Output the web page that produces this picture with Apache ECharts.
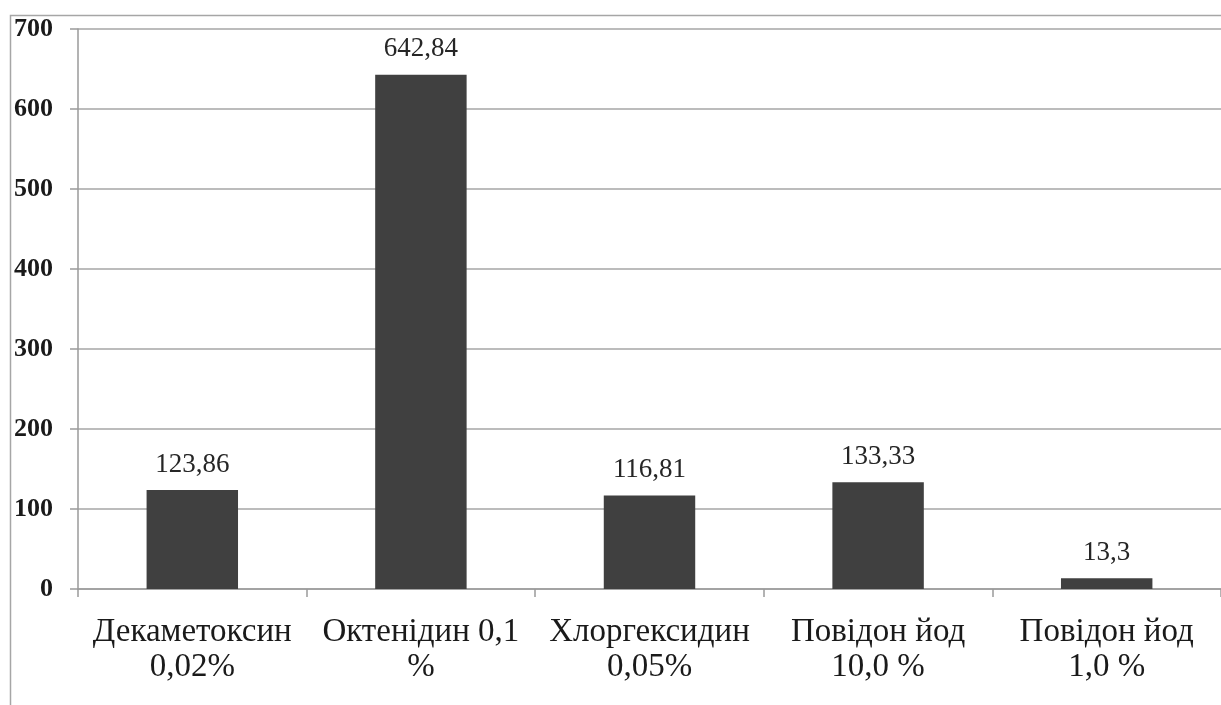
<!DOCTYPE html>
<html>
<head>
<meta charset="utf-8">
<style>
  html, body { margin: 0; padding: 0; background: #fff; }
  #chart { width: 1221px; height: 705px; }
</style>
<script src="https://cdn.jsdelivr.net/npm/echarts@6/dist/echarts.min.js"></script>
</head>
<body>
<div id="chart"></div>
<script>
// Antiseptic preparations and their measured values
const categories = [
  'Декаметоксин\n0,02%',
  'Октенідин 0,1\n%',
  'Хлоргексидин\n0,05%',
  'Повідон йод\n10,0 %',
  'Повідон йод\n1,0 %'
];
const values = [123.86, 642.84, 116.81, 133.33, 13.3];
const yTicks = { min: 0, max: 700, interval: 100 };

const serif = '"Liberation Serif", "Times New Roman", serif';
const chart = echarts.init(document.getElementById('chart'), null, { renderer: 'canvas' });

chart.setOption({
  animation: false,
  backgroundColor: '#ffffff',
  graphic: [{
    type: 'rect',
    shape: { x: 10.5, y: 15.5, width: 1400, height: 900 },
    style: { fill: 'none', stroke: '#a6a6a6', lineWidth: 1.5 },
    silent: true,
    z: -1
  }],
  grid: { left: 78, top: 29, width: 1150, height: 560 },
  xAxis: {
    type: 'category',
    data: categories,
    axisLine: { show: true, lineStyle: { color: '#9a9a9a', width: 1.5 } },
    axisTick: { show: true, alignWithLabel: false, length: 8, lineStyle: { color: '#9a9a9a', width: 1.5 } },
    axisLabel: {
      fontFamily: serif,
      fontSize: 33,
      color: '#1a1a1a',
      lineHeight: 35,
      margin: 26,
      interval: 0
    },
    splitLine: { show: false }
  },
  yAxis: {
    type: 'value',
    min: yTicks.min,
    max: yTicks.max,
    interval: yTicks.interval,
    axisLine: { show: true, lineStyle: { color: '#9a9a9a', width: 1.5 } },
    axisTick: { show: true, length: 8, lineStyle: { color: '#9a9a9a', width: 1.5 } },
    axisLabel: {
      fontFamily: serif,
      fontSize: 26,
      fontWeight: 'bold',
      color: '#1a1a1a',
      margin: 25
    },
    splitLine: { show: true, lineStyle: { color: '#a6a6a6', width: 1.5 } }
  },
  series: [{
    type: 'bar',
    data: values,
    barWidth: '40%',
    itemStyle: { color: '#404040' },
    label: {
      show: true,
      position: 'top',
      distance: 12,
      fontFamily: serif,
      fontSize: 27,
      color: '#262626',
      formatter: p => String(p.value).replace('.', ',')
    }
  }]
});
</script>
</body>
</html>
